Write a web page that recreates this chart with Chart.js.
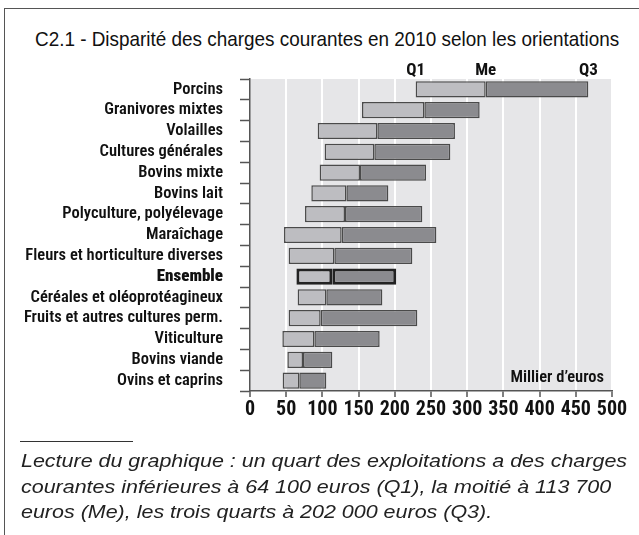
<!DOCTYPE html>
<html lang="fr">
<head>
<meta charset="utf-8">
<script src="https://cdn.jsdelivr.net/npm/chart.js@4/dist/chart.umd.min.js"></script>
<style>
	body { margin: 0; background: #fff; }
	#cadre { position: relative; width: 639px; height: 535px; overflow: hidden; }
	#bord { position: absolute; left: 4px; top: 8px; width: 700px; height: 600px; border-left: 1.5px solid #555; border-top: 1.5px solid #555; }
	#titre { position: absolute; left: 35px; top: 27px; font: 21px "Liberation Sans", Arial, sans-serif; line-height: 24px; color: #111; white-space: nowrap; transform: scaleX(0.9); transform-origin: 0 0; }
	#trait { position: absolute; left: 20px; top: 441px; width: 113px; border-top: 1px solid #333; }
	#lecture { position: absolute; left: 21px; top: 448px; font: italic 18.5px "Liberation Sans", Arial, sans-serif; line-height: 25.7px; color: #222; white-space: nowrap; transform: scaleX(1.16); transform-origin: 0 0; }
	canvas { position: absolute; left: 0; top: 0; }
</style>
</head>
<body>
<div id="cadre">
	<div id="bord"></div>
	<div id="titre">C2.1 - Disparité des charges courantes en 2010 selon les orientations</div>
	<canvas id="graphique" width="639" height="535"></canvas>
	<div id="trait"></div>
	<div id="lecture">Lecture du graphique : un quart des exploitations a des charges<br>courantes inférieures à 64 100 euros (Q1), la moitié à 113 700<br>euros (Me), les trois quarts à 202 000 euros (Q3).</div>
</div>
<script>
// valeurs en milliers d'euros
var orientations = [
	"Porcins",
	"Granivores mixtes",
	"Volailles",
	"Cultures générales",
	"Bovins mixte",
	"Bovins lait",
	"Polyculture, polyélevage",
	"Maraîchage",
	"Fleurs et horticulture diverses",
	"Ensemble",
	"Céréales et oléoprotéagineux",
	"Fruits et autres cultures perm.",
	"Viticulture",
	"Bovins viande",
	"Ovins et caprins",
];
var q1 = [228.8, 154.7, 93.5, 103.1, 96.2, 84.7, 76, 47, 53.4, 64.1, 65.8, 53.4, 44.7, 51.6, 45.1];
var mediane = [325.5, 240.8, 175.9, 171.7, 151.9, 133.1, 131.2, 126.6, 116.5, 113.7, 105.4, 97.6, 88.9, 73.2, 68.1];
var q3 = [467.3, 317.2, 283.1, 276.7, 243.1, 191.1, 238, 257.4, 224.2, 202.0, 182.8, 231.1, 179.1, 113.7, 105.4];
var graduations = [0, 50, 100, 150, 200, 250, 300, 350, 400, 450, 500];
var etiquettesQuartiles = ["Q1", "Me", "Q3"];
var indiceEnsemble = orientations.indexOf("Ensemble");

var policeEtroite = '"Roboto Condensed", Roboto, sans-serif';

var bas = [];
var haut = [];
for (var i = 0; i < orientations.length; i++) {
	bas.push([q1[i], mediane[i]]);
	haut.push([mediane[i], q3[i]]);
}

function bordure(ctx) {
	return ctx.dataIndex == indiceEnsemble ? 3 : 1.5;
}
function couleurBordure(ctx) {
	return ctx.dataIndex == indiceEnsemble ? "#222" : "#4a4a4a";
}

var fondEtTextes = {
	id: "fondEtTextes",
	beforeDraw: function (chart) {
		var ctx = chart.ctx;
		var zone = chart.chartArea;
		ctx.save();
		ctx.fillStyle = "#e6e6e8";
		ctx.fillRect(zone.left, zone.top, zone.right - zone.left, zone.bottom - zone.top);
		ctx.restore();
	},
	afterDraw: function (chart) {
		var ctx = chart.ctx;
		var zone = chart.chartArea;
		var x = chart.scales.x;
		var valeurs = [q1[0], mediane[0], q3[0]];
		ctx.save();
		ctx.fillStyle = "#111";
		ctx.font = "bold 17px " + policeEtroite;
		ctx.textAlign = "center";
		ctx.textBaseline = "alphabetic";
		for (var i = 0; i < valeurs.length; i++) {
			ctx.fillText(etiquettesQuartiles[i], x.getPixelForValue(valeurs[i]), 75);
		}
		ctx.font = "600 16.5px " + policeEtroite;
		ctx.textAlign = "right";
		ctx.fillText("Millier d\u2019euros", zone.right - 8, zone.bottom - 9);
		ctx.restore();
	},
};

var grafico = new Chart(document.getElementById("graphique"), {
	type: "bar",
	data: {
		labels: orientations,
		datasets: [
			{
				label: "Q1 - Me",
				data: bas,
				backgroundColor: "#bdbdc1",
				borderColor: couleurBordure,
				borderWidth: bordure,
				borderSkipped: false,
				grouped: false,
			},
			{
				label: "Me - Q3",
				data: haut,
				backgroundColor: "#8b8b8f",
				borderColor: couleurBordure,
				borderWidth: bordure,
				borderSkipped: false,
				grouped: false,
			},
		],
	},
	options: {
		indexAxis: "y",
		responsive: false,
		animation: false,
		barPercentage: 0.78,
		categoryPercentage: 1,
		layout: {
			padding: { left: 0, top: 79, right: 27, bottom: 114 },
		},
		scales: {
			x: {
				min: 0,
				max: 500,
				afterBuildTicks: function (scale) {
					scale.ticks = graduations.map(function (v) {
						return { value: v };
					});
				},
				afterFit: function (scale) {
					scale.height = 30;
				},
				grid: {
					color: function (ctx) {
						return ctx.tick && ctx.tick.value == 0 ? "rgba(0,0,0,0)" : "#ffffff";
					},
					lineWidth: 2,
					tickColor: "#555",
					tickLength: 6,
					tickWidth: 1.5,
				},
				border: { color: "#555", width: 1.5 },
				ticks: {
					color: "#111",
					padding: 1,
					maxRotation: 0,
					autoSkip: false,
					font: { family: policeEtroite, size: 20, weight: "bold" },
				},
			},
			y: {
				afterFit: function (scale) {
					scale.width = 250;
				},
				grid: {
					offset: true,
					drawOnChartArea: false,
					tickColor: "#555",
					tickLength: 10,
					tickWidth: 1.5,
				},
				border: { color: "#555", width: 1.5 },
				ticks: {
					color: "#111",
					padding: 17,
					autoSkip: false,
					font: function (ctx) {
						if (ctx.index == indiceEnsemble) {
							return { family: policeEtroite, size: 17, weight: 900 };
						}
						return { family: policeEtroite, size: 16.5, weight: 600 };
					},
				},
			},
		},
		plugins: {
			legend: { display: false },
			tooltip: { enabled: false },
		},
	},
	plugins: [fondEtTextes],
});
</script>
</body>
</html>
